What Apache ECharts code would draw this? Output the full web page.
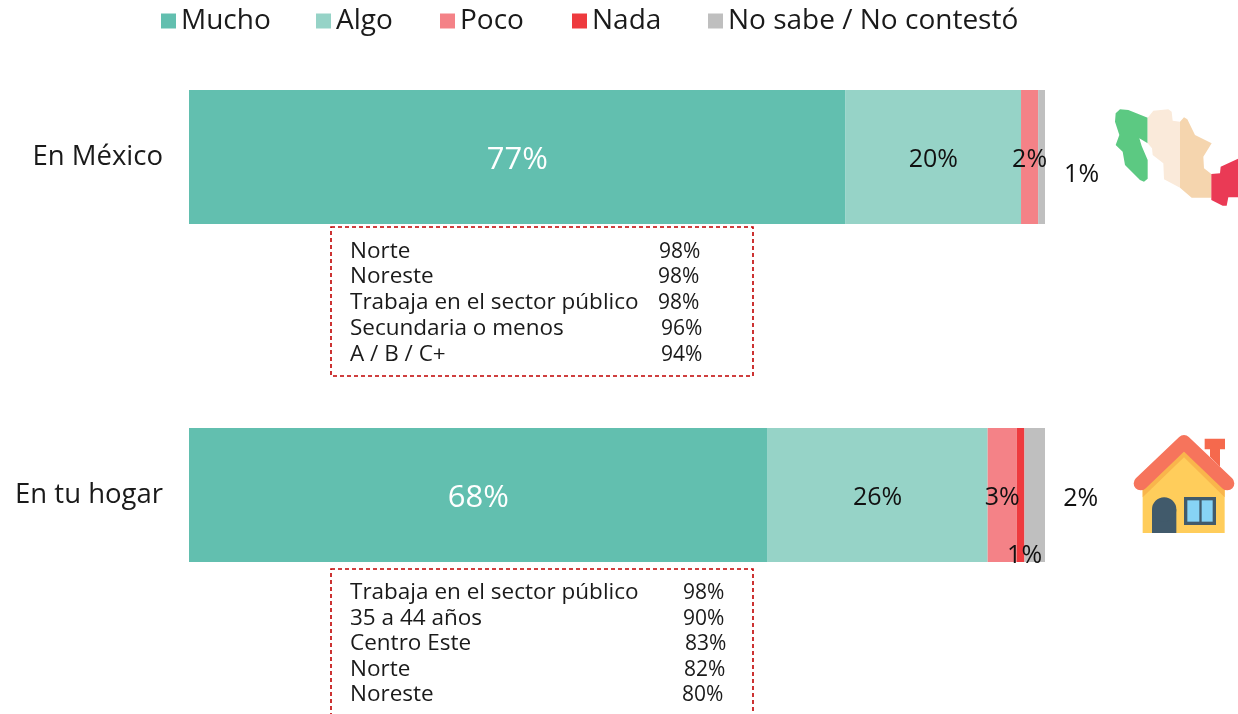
<!DOCTYPE html>
<html><head><meta charset="utf-8">
<style>html,body{margin:0;padding:0;background:#fff;overflow:hidden}#c{width:1238px;height:714px}</style>
<script src="https://cdn.jsdelivr.net/npm/echarts@6/dist/echarts.min.js"></script></head>
<body><div id="c"></div>
<script>
const FONT = '"Open Sans"';
const categories = ['En México', 'En tu hogar'];
const seriesNames = ['Mucho', 'Algo', 'Poco', 'Nada', 'No sabe / No contestó'];
const mucho = [76.7, 67.6];
const algo = [20.5, 25.7];
const poco = [2.0, 3.4];
const nada = [0, 0.9];
const noSabe = [0.8, 2.4];
const shownMucho = ['77%', '68%'];
const shownAlgo = ['20%', '26%'];
const shownPoco = ['2%', '3%'];
const shownNada = ['', '1%'];
const shownNoSabe = ['1%', '2%'];
const colors = ['#62BFAF', '#96D3C7', '#F48287', '#EE3A3E', '#BFBFBF'];
const groupMexico = ['Norte', 'Noreste', 'Trabaja en el sector público', 'Secundaria o menos', 'A / B / C+'];
const valuesMexico = ['98%', '98%', '98%', '96%', '94%'];
const groupHogar = ['Trabaja en el sector público', '35 a 44 años', 'Centro Este', 'Norte', 'Noreste'];
const valuesHogar = ['98%', '90%', '83%', '82%', '80%'];

const values = [mucho, algo, poco, nada, noSabe];
const shown = [shownMucho, shownAlgo, shownPoco, shownNada, shownNoSabe];
const labelOffset = {'3-1': [4, 61], '4-0': [40, 18], '4-1': [46, 4]};
const series = seriesNames.map((name, s) => ({
  name, type: 'bar', stack: 'total', barWidth: 134, clip: false, itemStyle: {color: colors[s]},
  data: values[s].map((v, i) => ({
    value: v,
    label: {
      show: !!shown[s][i], position: 'inside', formatter: shown[s][i],
      color: s === 0 ? '#fff' : '#111', fontFamily: FONT, fontSize: s === 0 ? 31 : 25,
      offset: labelOffset[s + '-' + i] || [0, 3]
    }
  }))
}));

function textEl(t, x, y, size) {
  return {type: 'text', x, y: y + 2, style: {text: t, fill: '#1a1a1a', font: size + 'px ' + FONT, verticalAlign: 'middle'}};
}
function box(y) {
  return {type: 'rect', shape: {x: 331, y, width: 422, height: 149},
    style: {fill: 'none', stroke: '#C00000', lineWidth: 1.6, lineDash: [4, 3]}};
}
const xMex = [659, 658, 658, 661, 661], yMex = [250, 275, 301, 327, 353];
const xHog = [683, 683, 685, 684, 682], yHog = [591, 617, 642, 668, 693];
const gfx = [box(227), box(569)];
groupMexico.forEach((t, i) => { gfx.push(textEl(t, 350, yMex[i], 22.5), textEl(valuesMexico[i], xMex[i], yMex[i], 21)); });
groupHogar.forEach((t, i) => { gfx.push(textEl(t, 350, yHog[i], 22.5), textEl(valuesHogar[i], xHog[i], yHog[i], 21)); });

// decorative icons
const mz = pts => pts.map(p => [1000 + p[0] / 3, 80 + p[1] / 3]);
const hz = pts => pts.map(p => [970 + p[0] / 3, 420 + p[1] / 3]);
const poly = (points, fill) => ({type: 'polygon', shape: {points}, style: {fill}});
gfx.push(
  poly(mz([[347,100],[360,88],[385,90],[443,113],[443,190],[418,175],[425,198],[443,240],[443,296],[432,305],[420,300],[375,255],[368,215],[347,195],[358,165],[345,125]]), '#5CC982'),
  poly(mz([[443,113],[460,92],[505,88],[515,95],[518,122],[540,125],[540,323],[492,298],[490,250],[458,225],[456,205],[443,190]]), '#FAEADA'),
  poly(mz([[540,125],[552,112],[562,118],[585,165],[635,190],[610,230],[612,265],[634,282],[634,353],[575,353],[540,323]]), '#F5D5AE'),
  poly(mz([[634,282],[660,280],[662,260],[714,236],[714,352],[685,352],[680,377],[668,377],[634,360]]), '#EA3A55'),
  poly(hz([[704,56],[765,56],[765,88],[750,88],[750,140],[720,110],[720,88],[704,88]]), '#F5694D'),
  poly(hz([[518,339],[518,205],[642,105],[764,205],[764,339]]), '#FFCD5B'),
  poly(hz([[518,205],[642,92],[764,205],[764,232],[642,112],[518,232]]), '#F9B54C'),
  {type: 'rect', shape: {x: 970 + 546/3, y: 420 + 268/3, width: 73/3, height: 71/3}, style: {fill: '#415A6B'}},
  {type: 'circle', shape: {cx: 970 + 582.5/3, cy: 420 + 268/3, r: 36.5/3}, style: {fill: '#415A6B'}},
  {type: 'rect', shape: {x: 970 + 642/3, y: 420 + 231/3, width: 96/3, height: 84/3}, style: {fill: '#415A6B'}},
  {type: 'rect', shape: {x: 970 + 652/3, y: 420 + 241/3, width: 36/3, height: 64/3}, style: {fill: '#87D3F5'}},
  {type: 'rect', shape: {x: 970 + 695/3, y: 420 + 241/3, width: 33/3, height: 64/3}, style: {fill: '#87D3F5'}},
  {type: 'polyline', shape: {points: hz([[512,190],[642,66],[772,190]])}, style: {fill: 'none', stroke: '#F6745C', lineWidth: 14, lineCap: 'round', lineJoin: 'round'}}
);

const legendLeft = [156, 311, 435, 567, 703];
const chart = echarts.init(document.getElementById('c'));
chart.setOption({
  animation: false, color: colors,
  legend: seriesNames.map((n, i) => ({
    data: [n], top: 2, left: legendLeft[i], itemWidth: 15, itemHeight: 15, itemGap: 6,
    textStyle: {fontFamily: FONT, fontSize: 28, color: '#1a1a1a'}, icon: 'rect', itemStyle: {borderWidth: 0}
  })),
  grid: {left: 189, width: 856, top: 157, height: 338, outerBoundsMode: 'none'},
  xAxis: {type: 'value', min: 0, max: 100, show: false},
  yAxis: {type: 'category', inverse: true, boundaryGap: false, data: categories,
    axisLine: {show: false}, axisTick: {show: false},
    axisLabel: {margin: 26, fontFamily: FONT, fontSize: 27.5, color: '#1a1a1a', padding: [5, 0, 0, 0]}},
  series, graphic: gfx
});
</script></body></html>
